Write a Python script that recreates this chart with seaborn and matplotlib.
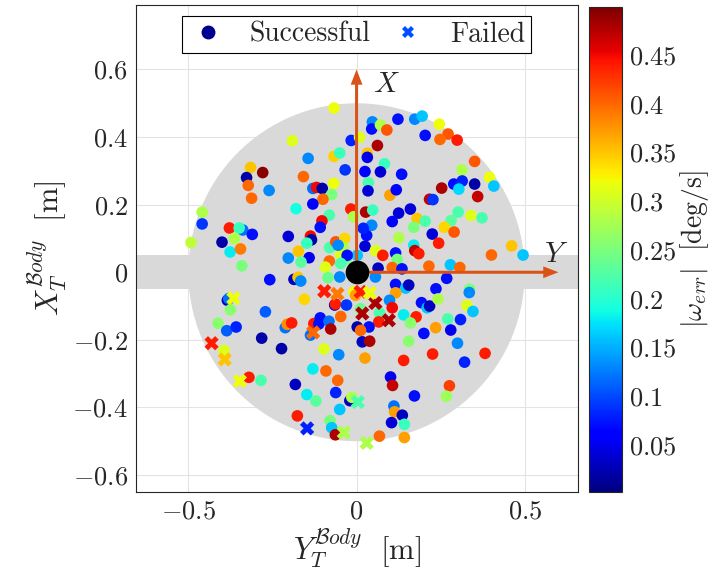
import matplotlib
matplotlib.use('Agg')
import matplotlib.pyplot as plt
from matplotlib.patches import Circle, Rectangle
from matplotlib.lines import Line2D
from matplotlib.ticker import FuncFormatter
from matplotlib import cm, colors
import seaborn as sns
import pandas as pd

# Successful runs: target position in body frame (Y_T horizontal, X_T vertical) and |w_err| [deg/s]
# upper left
ok_y_ul = [-0.067, -0.191, -0.016, -0.144, -0.067, -0.050, -0.034, -0.315, -0.279, -0.327,
           -0.322, -0.312, -0.260, -0.158, -0.068, -0.130, -0.119, -0.102, -0.074, -0.100,
           -0.130, -0.017, -0.180, -0.081, -0.103, -0.108, -0.009, -0.459, -0.459, -0.492,
           -0.378, -0.338, -0.349, -0.310, -0.363, -0.400, -0.376, -0.345, -0.341, -0.203,
           -0.137, -0.134, -0.148, -0.141, -0.203, -0.173, -0.165, -0.080, -0.062, -0.035,
           -0.040, -0.048, -0.081, -0.093, -0.055, -0.030]
ok_x_ul = [0.486, 0.389, 0.390, 0.337, 0.343, 0.353, 0.303, 0.310, 0.295, 0.280,
           0.257, 0.219, 0.242, 0.283, 0.263, 0.248, 0.251, 0.248, 0.230, 0.216,
           0.202, 0.187, 0.188, 0.169, 0.152, 0.133, 0.164, 0.178, 0.143, 0.088,
           0.131, 0.125, 0.131, 0.112, 0.100, 0.089, 0.060, 0.069, 0.019, 0.106,
           0.107, 0.096, 0.086, 0.043, 0.042, 0.062, 0.030, 0.073, 0.090, 0.100,
           0.073, 0.053, 0.033, 0.015, 0.080, 0.040]
ok_w_ul = [0.32, 0.31, 0.08, 0.13, 0.345, 0.21, 0.09, 0.35, 0.495, 0.02,
           0.40, 0.40, 0.13, 0.40, 0.32, 0.12, 0.45, 0.02, 0.25, 0.40,
           0.06, 0.44, 0.19, 0.22, 0.45, 0.07, 0.28, 0.28, 0.09, 0.29,
           0.44, 0.12, 0.21, 0.07, 0.28, 0.02, 0.18, 0.39, 0.25, 0.04,
           0.45, 0.02, 0.21, 0.05, 0.13, 0.35, 0.23, 0.22, 0.41, 0.34,
           0.28, 0.31, 0.40, 0.31, 0.13, 0.25]

# upper right
ok_y_ur = [0.047, 0.045, 0.071, 0.090, 0.123, 0.173, 0.195, 0.204, 0.246, 0.272,
           0.248, 0.299, 0.009, 0.062, 0.032, 0.032, 0.083, 0.025, 0.071, 0.134,
           0.035, 0.034, 0.099, 0.118, 0.351, 0.313, 0.395, 0.408, 0.351, 0.360,
           0.289, 0.314, 0.304, 0.253, 0.217, 0.227, 0.027, 0.048, 0.125, 0.160,
           0.106, 0.180, 0.204, 0.170, 0.045, 0.302, 0.281, 0.261, 0.290, 0.340,
           0.373, 0.225, 0.244, 0.126, 0.030, 0.025, 0.170, 0.173, 0.185, 0.056,
           0.078, 0.116, 0.121, 0.461, 0.495, 0.401, 0.215, 0.279, 0.307, 0.106,
           0.135, 0.064, 0.020]
ok_x_ur = [0.445, 0.424, 0.436, 0.421, 0.453, 0.453, 0.462, 0.405, 0.438, 0.409,
           0.393, 0.391, 0.399, 0.375, 0.352, 0.340, 0.321, 0.298, 0.297, 0.290,
           0.265, 0.241, 0.228, 0.244, 0.328, 0.303, 0.281, 0.255, 0.261, 0.224,
           0.261, 0.270, 0.246, 0.249, 0.216, 0.215, 0.178, 0.184, 0.175, 0.187,
           0.150, 0.159, 0.151, 0.133, 0.139, 0.178, 0.153, 0.133, 0.119, 0.168,
           0.161, 0.113, 0.086, 0.102, 0.109, 0.077, 0.080, 0.064, 0.055, 0.064,
           0.050, 0.057, 0.038, 0.078, 0.051, 0.051, 0.018, 0.022, 0.014, 0.014,
           0.010, 0.012, 0.130]
ok_w_ur = [0.13, 0.07, 0.28, 0.41, 0.07, 0.13, 0.16, 0.07, 0.32, 0.41,
           0.40, 0.44, 0.31, 0.48, 0.35, 0.05, 0.21, 0.06, 0.04, 0.07,
           0.22, 0.04, 0.37, 0.06, 0.41, 0.28, 0.32, 0.16, 0.02, 0.47,
           0.07, 0.08, 0.17, 0.48, 0.47, 0.09, 0.48, 0.21, 0.04, 0.04,
           0.06, 0.35, 0.22, 0.25, 0.13, 0.22, 0.23, 0.34, 0.41, 0.31,
           0.22, 0.04, 0.44, 0.28, 0.07, 0.04, 0.18, 0.47, 0.44, 0.31,
           0.44, 0.07, 0.25, 0.35, 0.16, 0.40, 0.40, 0.16, 0.40, 0.40,
           0.07, 0.03, 0.08]

# lower left (plus a few around the origin)
ok_y_ll = [-0.258, -0.186, -0.174, -0.166, -0.155, -0.384, -0.380, -0.375, -0.412, -0.386,
           -0.358, -0.394, -0.320, -0.284, -0.271, -0.282, -0.223, -0.212, -0.206, -0.193,
           -0.085, -0.050, -0.065, -0.063, -0.030, -0.047, -0.127, -0.108, -0.112, -0.082,
           -0.077, -0.137, -0.097, -0.053, -0.130, -0.091, -0.056, -0.182, -0.148, -0.121,
           -0.062, -0.050, -0.176, -0.079, -0.074, -0.063, -0.020, -0.014, 0.002, -0.008,
           -0.003, 0.002, -0.028, -0.047, 0.012]
ok_x_ll = [-0.022, -0.021, -0.015, -0.026, -0.080, -0.083, -0.078, -0.111, -0.151, -0.173,
           -0.162, -0.231, -0.311, -0.320, -0.117, -0.195, -0.226, -0.164, -0.154, -0.150,
           -0.016, -0.014, -0.097, -0.094, -0.097, -0.131, -0.152, -0.135, -0.153, -0.145,
           -0.168, -0.186, -0.227, -0.244, -0.286, -0.292, -0.320, -0.332, -0.362, -0.381,
           -0.356, -0.406, -0.425, -0.439, -0.460, -0.481, -0.380, -0.370, -0.162, -0.058,
           -0.068, 0.050, 0.050, 0.026, -0.108]
ok_w_ll = [0.07, 0.03, 0.35, 0.13, 0.34, 0.03, 0.12, 0.26, 0.26, 0.11,
           0.08, 0.31, 0.44, 0.22, 0.11, 0.02, 0.02, 0.12, 0.38, 0.44,
           0.24, 0.13, 0.03, 0.44, 0.09, 0.40, 0.44, 0.07, 0.07, 0.12,
           0.48, 0.12, 0.31, 0.13, 0.18, 0.40, 0.40, 0.03, 0.18, 0.23,
           0.08, 0.16, 0.44, 0.25, 0.16, 0.48, 0.03, 0.28, 0.02, 0.32,
           0.37, 0.16, 0.07, 0.22, 0.24]

# lower right
ok_y_lr = [0.056, 0.116, 0.146, 0.155, 0.116, 0.098, 0.106, 0.068, 0.066, 0.037,
           0.012, 0.017, 0.039, 0.025, 0.140, 0.177, 0.160, 0.193, 0.210, 0.217,
           0.236, 0.242, 0.268, 0.200, 0.235, 0.271, 0.280, 0.309, 0.300, 0.336,
           0.335, 0.328, 0.346, 0.155, 0.140, 0.226, 0.321, 0.382, 0.101, 0.107,
           0.172, 0.276, 0.267, 0.111, 0.113, 0.136, 0.104, 0.142, 0.068, 0.142]
ok_x_lr = [-0.014, -0.036, -0.047, -0.038, -0.061, -0.083, -0.105, -0.120, -0.147, -0.162,
           -0.172, -0.206, -0.204, -0.254, -0.126, -0.132, -0.150, -0.090, -0.105, -0.100,
           -0.049, -0.079, -0.018, -0.181, -0.164, -0.138, -0.171, -0.140, -0.210, -0.050,
           -0.060, -0.098, -0.116, -0.204, -0.261, -0.242, -0.266, -0.240, -0.310, -0.335,
           -0.366, -0.336, -0.367, -0.396, -0.413, -0.423, -0.445, -0.450, -0.485, -0.489]
ok_w_lr = [0.13, 0.07, 0.16, 0.03, 0.37, 0.13, 0.45, 0.22, 0.44, 0.07,
           0.40, 0.03, 0.48, 0.37, 0.18, 0.44, 0.26, 0.07, 0.16, 0.03,
           0.07, 0.28, 0.07, 0.07, 0.37, 0.22, 0.05, 0.08, 0.13, 0.25,
           0.13, 0.31, 0.16, 0.26, 0.44, 0.44, 0.08, 0.44, 0.05, 0.47,
           0.07, 0.42, 0.27, 0.12, 0.37, 0.03, 0.04, 0.21, 0.40, 0.37]

# Failed runs
fail_y = [-0.366, -0.431, -0.392, -0.347, -0.096, -0.057, -0.129, -0.147,
          -0.038, 0.004, 0.030, 0.056, 0.017, 0.096, 0.012, 0.039]
fail_x = [-0.077, -0.210, -0.258, -0.322, -0.056, -0.064, -0.178, -0.462,
          -0.474, -0.384, -0.505, -0.091, -0.122, -0.142, -0.058, -0.061]
fail_w = [0.32, 0.44, 0.35, 0.32, 0.44, 0.39, 0.40, 0.08,
          0.28, 0.22, 0.28, 0.48, 0.48, 0.48, 0.44, 0.32]

# workspace geometry / body axes
ws_radius = 0.5
band_half = 0.05
axis_len = 0.6
cbar_ticks = [0.05, 0.1, 0.15, 0.2, 0.25, 0.3, 0.35, 0.4, 0.45]
x_ticks = [-0.5, 0, 0.5]
y_ticks = [-0.6, -0.4, -0.2, 0, 0.2, 0.4, 0.6]

sns.set_style('white')
plt.rcParams['font.family'] = 'serif'
plt.rcParams['font.serif'] = ['cmr10']
plt.rcParams['mathtext.fontset'] = 'cm'
plt.rcParams['axes.unicode_minus'] = False
plt.rcParams['axes.formatter.use_mathtext'] = True

ok = pd.DataFrame({
    'y': ok_y_ul + ok_y_ur + ok_y_ll + ok_y_lr,
    'x': ok_x_ul + ok_x_ur + ok_x_ll + ok_x_lr,
    'w': ok_w_ul + ok_w_ur + ok_w_ll + ok_w_lr,
})
fail = pd.DataFrame({'y': fail_y, 'x': fail_x, 'w': fail_w})

wmin, wmax = 0.0015, 0.4995
jet = matplotlib.colormaps['jet']
orange = '#D95319'
gray = '#d9d9d9'

fig = plt.figure(figsize=(7.17, 5.87), dpi=100)
ax = fig.add_axes([0.19, 0.162, 0.616, 0.829])
cax = fig.add_axes([0.821, 0.162, 0.046, 0.826])

ax.add_patch(Circle((0, 0), ws_radius, color=gray, lw=0, zorder=1))
ax.add_patch(Rectangle((-1, -band_half), 2, 2 * band_half, color=gray, lw=0, zorder=1))

sns.scatterplot(data=ok, x='y', y='x', hue='w', palette=jet, hue_norm=(wmin, wmax),
                marker='o', s=70, linewidth=0, legend=False, ax=ax, zorder=3)
sns.scatterplot(data=fail, x='y', y='x', hue='w', palette=jet, hue_norm=(wmin, wmax),
                marker='X', s=105, linewidth=0, legend=False, ax=ax, zorder=4)

ax.arrow(0, 0, 0, axis_len, width=0.009, head_width=0.035, head_length=0.045,
         length_includes_head=True, color=orange, lw=0, zorder=5)
ax.arrow(0, 0, axis_len, 0, width=0.009, head_width=0.035, head_length=0.045,
         length_includes_head=True, color=orange, lw=0, zorder=5)
ax.scatter([0], [0], s=290, color='black', lw=0, zorder=6)
ax.text(0.089, axis_len - 0.045, '$X$', fontsize=21, ha='center', va='center', zorder=7)
ax.text(axis_len - 0.008, 0.053, '$Y$', fontsize=21, ha='center', va='center', zorder=7)

ax.set_xlim(-0.655, 0.658)
ax.set_ylim(-0.65, 0.79)
ax.set_xticks(x_ticks)
ax.set_yticks(y_ticks)
fmt = FuncFormatter(lambda v, p: f'${v:g}$')
ax.xaxis.set_major_formatter(fmt)
ax.yaxis.set_major_formatter(fmt)
ax.tick_params(direction='in', length=4, labelsize=19, color='#262626', pad=6)
ax.grid(True, color='#e3e3e3', lw=0.8)
ax.set_axisbelow(True)
for sp in ax.spines.values():
    sp.set_color('#262626')
    sp.set_linewidth(0.8)

ax.set_xlabel(r'$Y_T^{\mathcal{B}ody}\ \ [\mathrm{m}]$', fontsize=22, labelpad=2)
ax.set_ylabel(r'$X_T^{\mathcal{B}ody}\ \ [\mathrm{m}]$', fontsize=22, labelpad=2)

handles = [
    Line2D([], [], marker='o', ls='', color='#00008F', markersize=10, markeredgewidth=0, label='Successful'),
    Line2D([], [], marker='X', ls='', color='#0050FF', markersize=9, markeredgewidth=0, label='Failed'),
]
leg = ax.legend(handles=handles, loc='upper center', bbox_to_anchor=(0.498, 0.978), ncol=2,
                fontsize=20, frameon=True, fancybox=False, edgecolor='black', framealpha=1,
                borderpad=0.2, borderaxespad=0, handlelength=1.5, handletextpad=0.75,
                columnspacing=0.6)
leg.get_frame().set_linewidth(0.8)

sm = cm.ScalarMappable(norm=colors.Normalize(wmin, wmax), cmap=jet)
cb = fig.colorbar(sm, cax=cax)
cb.set_ticks(cbar_ticks)
cb.ax.yaxis.set_major_formatter(FuncFormatter(lambda v, p: f'${v:g}$'))
cb.ax.tick_params(direction='in', length=4, labelsize=19, pad=5)
cb.outline.set_linewidth(0.8)
cb.set_label(r'$|\omega_{err}|\ \ [\mathrm{deg/s}]$', fontsize=20, labelpad=1)

fig.savefig('out.png', dpi=100)
